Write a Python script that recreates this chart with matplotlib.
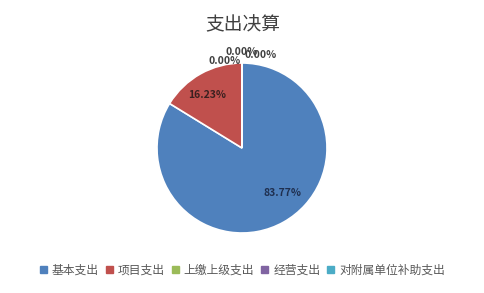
import matplotlib.pyplot as plt

plt.rcParams['font.family'] = ['Noto Sans CJK SC', 'DejaVu Sans']

categories = ['基本支出', '项目支出', '上缴上级支出', '经营支出', '对附属单位补助支出']
shares = [83.77, 16.23, 0.0, 0.0, 0.0]
colors = ['#4F81BD', '#C0504D', '#9BBB59', '#8064A2', '#4BACC6']

# label spots as laid out in the original (pie radius units)
label_pos = [(0.48, -0.53), (-0.41, 0.62), (-0.21, 1.02), (-0.01, 1.13), (0.22, 1.10)]

fig = plt.figure(figsize=(4.85, 2.93), dpi=100)
ax = fig.add_axes([157 / 485, 60 / 293, 170 / 485, 170 / 293])

wedges, texts, autotexts = ax.pie(
    shares, colors=colors, startangle=90, counterclock=False,
    autopct='%.2f%%', wedgeprops=dict(edgecolor='white', linewidth=1.2),
    textprops=dict(fontsize=7.5, color='#404040', fontweight='bold'))
for t, p in zip(autotexts, label_pos):
    t.set_position(p)
    t.set_ha('center')
    t.set_va('center')
autotexts[0].set_color('#1F2F4F')
autotexts[1].set_color('#3A2020')
ax.set_aspect('equal')
ax.set_xlim(-1.0, 1.0)
ax.set_ylim(-1.0, 1.0)

fig.text(0.5, 1 - 25 / 293, '支出决算', ha='center', va='center', fontsize=13.5, color='#404040')

handles = [plt.Rectangle((0, 0), 1, 1, color=c) for c in colors]
fig.legend(handles, categories, loc='center', bbox_to_anchor=(0.5, 1 - 270 / 293), ncol=5,
           frameon=False, fontsize=8.5, handlelength=0.6, handleheight=0.6,
           handletextpad=0.4, columnspacing=0.6, labelcolor='#595959')

plt.savefig('out.png', dpi=100)
